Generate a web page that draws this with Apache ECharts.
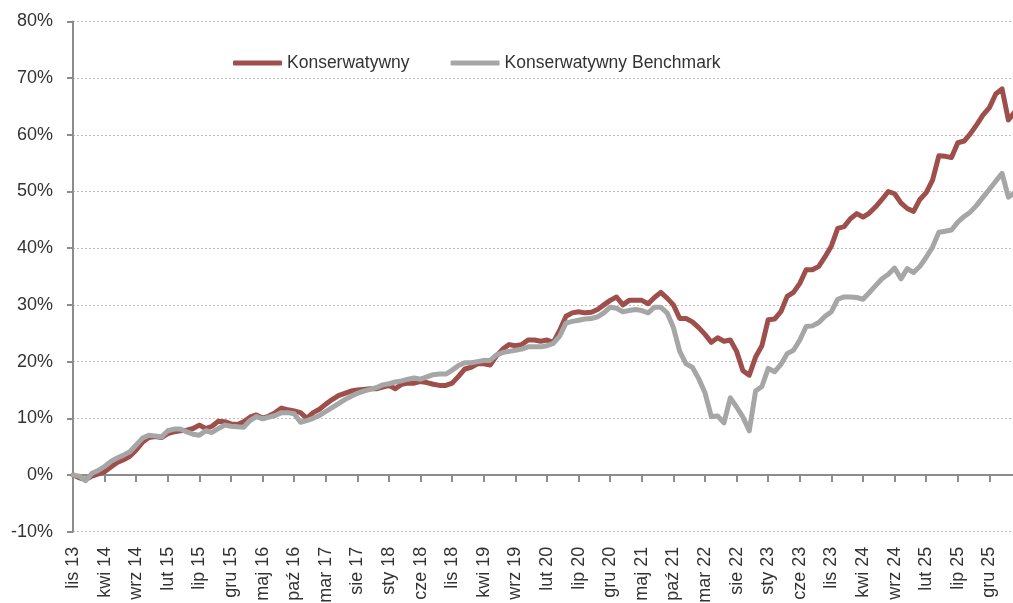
<!DOCTYPE html>
<html>
<head>
<meta charset="utf-8">
<script src="https://cdn.jsdelivr.net/npm/echarts@6/dist/echarts.min.js"></script>
<style>
    html, body { margin: 0; padding: 0; background: #fff; }
    #chart { width: 1013px; height: 603px; }
</style>
</head>
<body>
<div id="chart"></div>
<script>
    // miesiące od lis 13 do kwi 26
    var monthNames = ['sty', 'lut', 'mar', 'kwi', 'maj', 'cze', 'lip', 'sie', 'wrz', 'paź', 'lis', 'gru'];

    var konserwatywny = [
        0, -0.5, -0.8, -0.2, 0.2, 0.6, 1.4, 2.2, 2.7, 3.3,
        4.4, 5.8, 6.6, 6.8, 6.6, 7.3, 7.6, 7.8, 7.9, 8.2,
        8.8, 8.2, 8.6, 9.5, 9.4, 9.0, 8.9, 9.4, 10.2, 10.6,
        10.0, 10.4, 11.0, 11.8, 11.5, 11.3, 11.0, 10.0, 11.0, 11.6,
        12.5, 13.3, 14.0, 14.4, 14.8, 15.0, 15.1, 15.2, 15.2, 15.5,
        15.8, 15.2, 16.0, 16.2, 16.2, 16.5, 16.3, 16.0, 15.8, 15.8,
        16.2, 17.4, 18.7, 19.0, 19.6, 19.6, 19.4, 21.0, 22.2, 23.0,
        22.8, 23.0, 23.8, 23.8, 23.6, 23.8, 23.4, 25.5, 28.0, 28.6,
        28.8, 28.6, 28.7, 29.2, 30.0, 30.8, 31.4, 30.0, 30.8, 30.8,
        30.8, 30.2, 31.3, 32.2, 31.2, 30.0, 27.6, 27.6, 27.0, 26.0,
        24.8, 23.4, 24.2, 23.6, 23.8, 21.8, 18.4, 17.6, 20.8, 22.8,
        27.4, 27.5, 28.8, 31.5, 32.2, 33.8, 36.2, 36.2, 36.8, 38.5,
        40.4, 43.5, 43.8, 45.2, 46.1, 45.5, 46.2, 47.3, 48.6, 50.0,
        49.6, 48.0, 47.0, 46.5, 48.6, 49.8, 52.0, 56.3, 56.2, 56.0,
        58.6, 58.9, 60.2, 61.8, 63.5, 64.8, 67.2, 68.1, 62.6, 64.0
    ];

    var benchmark = [
        0, -0.2, -1.0, 0.3, 0.8, 1.5, 2.4, 3.0, 3.5, 4.1,
        5.3, 6.5, 7.0, 6.9, 6.7, 7.8, 8.1, 8.1, 7.6, 7.2,
        7.0, 7.8, 7.5, 8.2, 8.8, 8.6, 8.5, 8.4, 9.6, 10.3,
        9.9, 10.2, 10.5, 11.0, 11.0, 10.8, 9.3, 9.6, 10.0, 10.5,
        11.2, 11.9, 12.6, 13.3, 13.9, 14.4, 14.8, 15.1, 15.4, 15.9,
        16.1, 16.4, 16.6, 16.9, 17.1, 16.9, 17.3, 17.7, 17.8, 17.8,
        18.5, 19.3, 19.8, 19.8, 20.0, 20.2, 20.2, 21.2, 21.6, 21.8,
        22.0, 22.2, 22.6, 22.6, 22.6, 22.8, 23.2, 24.5, 26.8, 27.1,
        27.3, 27.5, 27.6, 27.9, 28.6, 29.6, 29.4, 28.8, 29.0, 29.2,
        29.0, 28.6, 29.6, 29.6, 28.6, 26.0, 21.8, 19.6, 19.0, 17.0,
        14.5, 10.3, 10.4, 9.2, 13.6, 12.0, 10.2, 7.8, 14.8, 15.6,
        18.8, 18.2, 19.5, 21.4, 22.0, 23.8, 26.2, 26.3, 26.9, 28.0,
        28.8, 31.0, 31.4, 31.4, 31.3, 31.0, 32.2, 33.4, 34.6, 35.4,
        36.5, 34.6, 36.4, 35.7, 36.8, 38.4, 40.2, 42.8, 43.0, 43.2,
        44.6, 45.6, 46.4, 47.6, 49.0, 50.4, 51.8, 53.2, 49.0, 49.8
    ];

    var yTicks = [-10, 0, 10, 20, 30, 40, 50, 60, 70, 80];

    var categories = [];
    for (var k = 0; k < konserwatywny.length; k++) {
        var m = (10 + k) % 12;
        var y = 13 + Math.floor((10 + k) / 12);
        categories.push(monthNames[m] + ' ' + y);
    }

    var fontName = '"Liberation Sans", Arial, sans-serif';
    var textColor = '#333333';
    var axisColor = '#8c8c8c';

    var chart = echarts.init(document.getElementById('chart'), null, { renderer: 'canvas' });

    var option = {
        animation: false,
        backgroundColor: '#ffffff',
        grid: {
            left: 73,
            top: 21.4,
            width: 941.7,
            height: 510.3,
            outerBoundsMode: 'none'
        },
        legend: {
            left: 228,
            top: 46,
            icon: 'roundRect',
            itemWidth: 49,
            itemHeight: 5,
            itemGap: 41,
            textStyle: {
                fontFamily: fontName,
                fontSize: 17.5,
                lineHeight: 24,
                color: textColor
            },
            data: ['Konserwatywny', 'Konserwatywny Benchmark']
        },
        xAxis: [
            {
                type: 'category',
                data: categories,
                boundaryGap: false,
                position: 'bottom',
                axisLine: { show: false, onZero: false },
                axisTick: { show: false },
                splitLine: { show: false },
                axisLabel: {
                    interval: 4,
                    rotate: 90,
                    margin: 15,
                    fontFamily: fontName,
                    fontSize: 18,
                    color: textColor
                }
            },
            {
                type: 'category',
                data: categories,
                boundaryGap: false,
                position: 'bottom',
                axisLine: {
                    show: true,
                    onZero: true,
                    lineStyle: { color: axisColor, width: 2 }
                },
                axisTick: {
                    show: true,
                    interval: 4,
                    length: 7,
                    lineStyle: { color: axisColor, width: 2 }
                },
                axisLabel: { show: false },
                splitLine: { show: false }
            }
        ],
        yAxis: {
            type: 'value',
            min: yTicks[0],
            max: yTicks[yTicks.length - 1],
            interval: 10,
            axisLine: {
                show: true,
                lineStyle: { color: axisColor, width: 2 }
            },
            axisTick: {
                show: true,
                length: 6,
                lineStyle: { color: axisColor, width: 2 }
            },
            axisLabel: {
                margin: 20,
                formatter: '{value}%',
                fontFamily: fontName,
                fontSize: 18,
                color: textColor
            },
            splitLine: {
                show: true,
                lineStyle: { color: '#bfbfbf', width: 1, type: [2, 2] }
            }
        },
        series: [
            {
                name: 'Konserwatywny',
                type: 'line',
                xAxisIndex: 0,
                data: konserwatywny,
                showSymbol: false,
                symbol: 'none',
                color: '#9e4f4c',
                lineStyle: { width: 5, color: '#9e4f4c', cap: 'round', join: 'round' }
            },
            {
                name: 'Konserwatywny Benchmark',
                type: 'line',
                xAxisIndex: 0,
                data: benchmark,
                showSymbol: false,
                symbol: 'none',
                color: '#a6a6a6',
                lineStyle: { width: 5, color: '#a6a6a6', cap: 'round', join: 'round' }
            }
        ]
    };

    chart.setOption(option);
</script>
</body>
</html>
